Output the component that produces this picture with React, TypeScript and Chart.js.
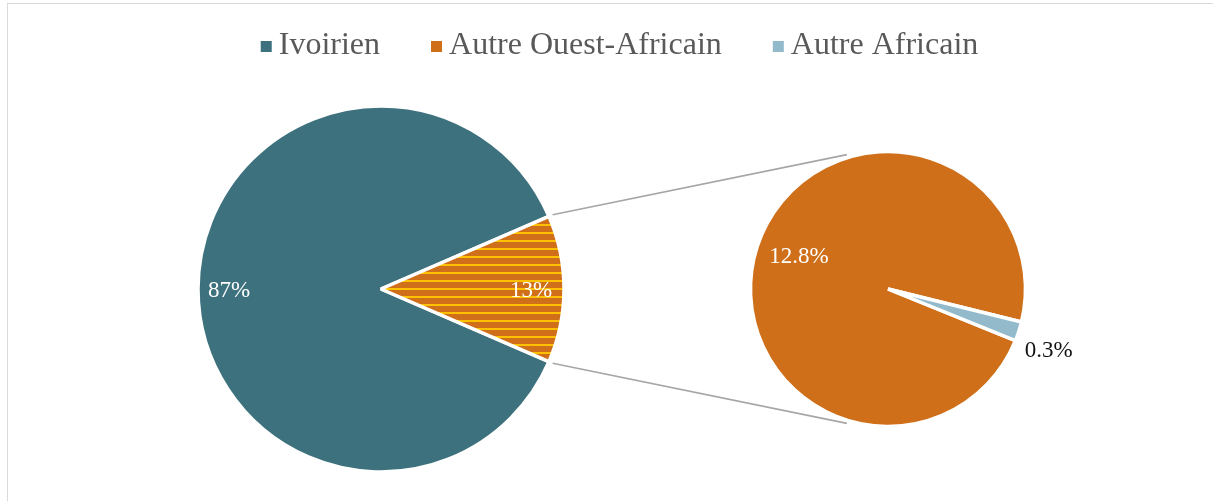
import React, { useEffect, useRef } from 'react';
import { Chart, registerables } from 'chart.js';

Chart.register(...registerables);

// ---------- data ----------
const categories = ['Ivoirien', 'Autre Ouest-Africain', 'Autre Africain'];
const mainLabels = ['Ivoirien', 'Autres Africains'];
const mainValues = [87, 13];
const mainValueTexts = ['87%', '13%'];
const subLabels = ['Autre Ouest-Africain', 'Autre Africain'];
const subValues = [12.8, 0.3];
const subValueTexts = ['12.8%', '0.3%'];

// ---------- styles ----------
const TEAL = '#3C717D';
const ORANGE = '#D06F1A';
const BLUE = '#92BACB';
const STRIPE = '#FFC000';
const LEGEND_COLORS = [TEAL, ORANGE, BLUE];
const W = 1213;
const H = 501;
const FRAME_LEFT = 7;
const FRAME_WIDTH = 1225;
const SERIF = '"Liberation Serif", "Times New Roman", serif';

type LabelStyle = { frac: number; color: string; align: CanvasTextAlign; dx?: number; dy?: number; outside?: boolean };

const mainLabelStyles: LabelStyle[] = [
  { frac: 0.83, color: '#FFFFFF', align: 'center' },
  { frac: 0.82, color: '#FFFFFF', align: 'center' },
];
const subLabelStyles: LabelStyle[] = [
  { frac: 0.68, color: '#FFFFFF', align: 'center', dy: -5 },
  { frac: 1.0, color: '#111111', align: 'left', dx: 6, dy: 26, outside: true },
];

function makeStripes(): CanvasPattern | string {
  const c = document.createElement('canvas');
  c.width = 8;
  c.height = 8;
  const g = c.getContext('2d');
  if (!g) return ORANGE;
  g.fillStyle = ORANGE;
  g.fillRect(0, 0, 8, 8);
  g.fillStyle = STRIPE;
  g.fillRect(0, 0, 8, 2);
  return g.createPattern(c, 'repeat') || ORANGE;
}

function labelPlugin(texts: string[], styles: LabelStyle[]) {
  return {
    id: 'sliceLabels',
    afterDatasetsDraw(chart: any) {
      const ctx = chart.ctx as CanvasRenderingContext2D;
      const arcs = chart.getDatasetMeta(0).data as any[];
      ctx.save();
      ctx.font = `23px ${SERIF}`;
      arcs.forEach((arc, i) => {
        const p = arc.getProps(['x', 'y', 'startAngle', 'endAngle', 'outerRadius'], true);
        const mid = (p.startAngle + p.endAngle) / 2;
        const st = styles[i];
        const r = p.outerRadius * st.frac;
        const ax = p.x + Math.cos(mid) * r + (st.dx || 0);
        const ay = p.y + Math.sin(mid) * r + (st.dy || 0);
        ctx.fillStyle = st.color;
        ctx.textAlign = st.align;
        ctx.textBaseline = 'alphabetic';
        ctx.fillText(texts[i], ax, st.outside ? ay : ay + 8);
      });
      ctx.restore();
    },
  };
}

const legendPlugin = {
  id: 'customLegend',
  afterDraw(chart: any) {
    const ctx = chart.ctx as CanvasRenderingContext2D;
    ctx.save();
    ctx.font = `32px ${SERIF}`;
    const box = 11;
    const gapText = 7;
    const gapItem = 51;
    const widths = categories.map((t) => ctx.measureText(t).width);
    const total = widths.reduce((a, w) => a + box + gapText + w, 0) + gapItem * (categories.length - 1);
    let x = FRAME_LEFT + FRAME_WIDTH / 2 - total / 2;
    const baseline = 54;
    categories.forEach((t, i) => {
      ctx.fillStyle = LEGEND_COLORS[i];
      ctx.fillRect(x, 41, box, box);
      ctx.fillStyle = '#595959';
      ctx.textAlign = 'left';
      ctx.textBaseline = 'alphabetic';
      ctx.fillText(t, x + box + gapText, baseline);
      x += box + gapText + widths[i] + gapItem;
    });
    ctx.restore();
  },
};

export default function App() {
  const mainRef = useRef<HTMLCanvasElement>(null);
  const subRef = useRef<HTMLCanvasElement>(null);

  useEffect(() => {
    document.body.style.margin = '0';
    if (!mainRef.current || !subRef.current) return;

    const mainChart = new Chart(mainRef.current, {
      type: 'pie',
      data: {
        labels: mainLabels,
        datasets: [
          {
            data: mainValues,
            backgroundColor: [TEAL, makeStripes() as any],
            borderColor: '#FFFFFF',
            borderWidth: 3.5,
            radius: 183,
            rotation: 113.4,
          } as any,
        ],
      },
      options: {
        responsive: false,
        animation: false,
        layout: { padding: { left: 0, right: 451, top: 90, bottom: 13 } },
        plugins: { legend: { display: false }, tooltip: { enabled: false } },
        events: [],
      } as any,
      plugins: [labelPlugin(mainValueTexts, mainLabelStyles), legendPlugin],
    });

    const connectorPlugin = {
      id: 'connectors',
      beforeDatasetsDraw(chart: any) {
        const ctx = chart.ctx as CanvasRenderingContext2D;
        const src = mainChart.getDatasetMeta(0).data[1] as any;
        const sp = src.getProps(['x', 'y', 'startAngle', 'endAngle', 'outerRadius'], true);
        const dst = chart.getDatasetMeta(0).data[0] as any;
        const dp = dst.getProps(['x', 'y', 'outerRadius'], true);
        const sr = sp.outerRadius + 4;
        const dr = dp.outerRadius + 3;
        const dAng = (107 * Math.PI) / 180;
        ctx.save();
        ctx.strokeStyle = '#A6A6A6';
        ctx.lineWidth = 1.6;
        ctx.beginPath();
        ctx.moveTo(sp.x + Math.cos(sp.startAngle) * sr, sp.y + Math.sin(sp.startAngle) * sr);
        ctx.lineTo(dp.x + Math.cos(-dAng) * dr, dp.y + Math.sin(-dAng) * dr);
        ctx.moveTo(sp.x + Math.cos(sp.endAngle) * sr, sp.y + Math.sin(sp.endAngle) * sr);
        ctx.lineTo(dp.x + Math.cos(dAng) * dr, dp.y + Math.sin(dAng) * dr);
        ctx.stroke();
        ctx.restore();
      },
    };

    const subChart = new Chart(subRef.current, {
      type: 'pie',
      data: {
        labels: subLabels,
        datasets: [
          {
            data: subValues,
            backgroundColor: [ORANGE, BLUE],
            borderColor: '#FFFFFF',
            borderWidth: 3.5,
            radius: 137.5,
            rotation: 112.1,
          } as any,
        ],
      },
      options: {
        responsive: false,
        animation: false,
        layout: { padding: { left: 600, right: 37, top: 100, bottom: 23 } },
        plugins: { legend: { display: false }, tooltip: { enabled: false } },
        events: [],
      } as any,
      plugins: [connectorPlugin, labelPlugin(subValueTexts, subLabelStyles)],
    });

    return () => {
      subChart.destroy();
      mainChart.destroy();
    };
  }, []);

  const canvasStyle: React.CSSProperties = { position: 'absolute', left: 0, top: 0, width: W, height: H };

  return (
    <div style={{ position: 'relative', width: W, height: H, overflow: 'hidden', background: '#FFFFFF' }}>
      <div
        style={{
          position: 'absolute',
          left: FRAME_LEFT,
          top: 3,
          width: FRAME_WIDTH,
          height: 600,
          border: '1px solid #D9D9D9',
          boxSizing: 'border-box',
        }}
      />
      <canvas ref={mainRef} width={W} height={H} style={canvasStyle} />
      <canvas ref={subRef} width={W} height={H} style={canvasStyle} />
    </div>
  );
}
